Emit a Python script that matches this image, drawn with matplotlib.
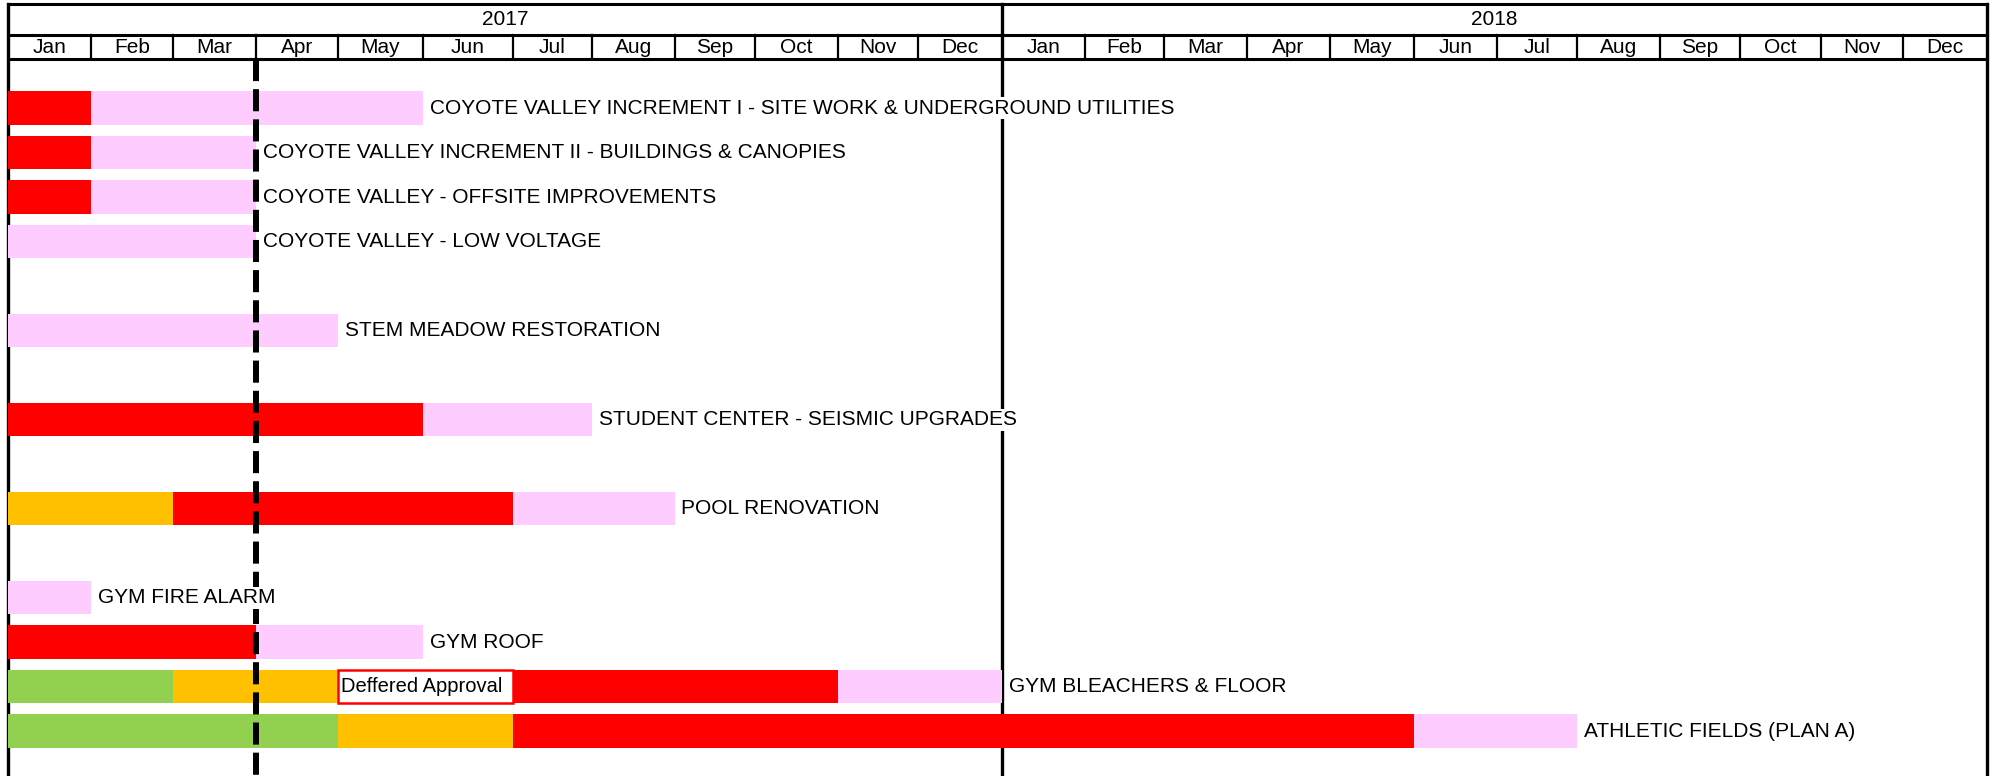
import numpy as np
import matplotlib.pyplot as plt
from matplotlib.patches import Rectangle

plt.rcParams['font.family'] = ['Liberation Sans', 'DejaVu Sans']

years = [2017, 2018]
months = ["Jan", "Feb", "Mar", "Apr", "May", "Jun",
          "Jul", "Aug", "Sep", "Oct", "Nov", "Dec"]

task_names = [
    "COYOTE VALLEY INCREMENT I - SITE WORK & UNDERGROUND UTILITIES",
    "COYOTE VALLEY INCREMENT II - BUILDINGS & CANOPIES",
    "COYOTE VALLEY - OFFSITE IMPROVEMENTS",
    "COYOTE VALLEY - LOW VOLTAGE",
    "STEM MEADOW RESTORATION",
    "STUDENT CENTER - SEISMIC UPGRADES",
    "POOL RENOVATION",
    "GYM FIRE ALARM",
    "GYM ROOF",
    "GYM BLEACHERS & FLOOR",
    "ATHLETIC FIELDS (PLAN A)",
]
task_rows = [0, 1, 2, 3, 5, 7, 9, 11, 12, 13, 14]
# phase boundaries in months from Jan 2017, and the phase of each piece
task_bounds = [
    [0, 1, 5],
    [0, 1, 3],
    [0, 1, 3],
    [0, 3],
    [0, 4],
    [0, 5, 7],
    [0, 2, 6, 8],
    [0, 1],
    [0, 3, 5],
    [0, 2, 4, 6, 10, 12],
    [0, 4, 6, 17, 19],
]
task_phases = [
    ["red", "pink"],
    ["red", "pink"],
    ["red", "pink"],
    ["pink"],
    ["pink"],
    ["red", "pink"],
    ["orange", "red", "pink"],
    ["pink"],
    ["red", "pink"],
    ["green", "orange", "deferred", "red", "pink"],
    ["green", "orange", "red", "pink"],
]
deferred_label = "Deffered Approval"
status_date = 3.0

colors = {"green": "#92D050", "orange": "#FFC000", "red": "#FF0000",
          "pink": "#FFCCFF", "deferred": "white"}

# month column widths of the sheet (uneven, like spreadsheet cells)
col_widths = [83, 82, 83, 82, 85, 90, 79, 83, 80, 83, 80, 84,
              83, 79, 83, 83, 84, 83, 80, 83, 80, 81, 82, 84]
n_months = len(years) * len(months)
edges = np.concatenate([[-83.0], np.cumsum([0] + col_widths), [sum(col_widths) + 83.0]])
knots = np.arange(-1, n_months + 2, dtype=float)


def fwd(x):
    return np.interp(x, knots, edges)


def inv(p):
    return np.interp(p, edges, knots)


y_top, y_mid, y_hdr = -2.34, -1.643, -1.103
y_bot = 15.01
bar_h = 0.75

fig = plt.figure(figsize=(19.94, 7.76), dpi=100)
ax = fig.add_axes([0, 0, 1, 1])
ax.set_xscale("function", functions=(fwd, inv))
ax.set_xlim(inv(-8), inv(1994 - 8))
ax.set_ylim(y_bot, -2.43)
ax.axis("off")

# header
for i, yr in enumerate(years):
    ax.text(inv((fwd(i * 12) + fwd(i * 12 + 12)) / 2), (y_top + y_mid) / 2,
            str(yr), ha="center", va="center", fontsize=15)
    for j, m in enumerate(months):
        k = i * 12 + j
        ax.text(inv((fwd(k) + fwd(k + 1)) / 2), (y_mid + y_hdr) / 2, m,
                ha="center", va="center", fontsize=15)
for y in (y_top, y_mid, y_hdr):
    ax.plot([0, n_months], [y, y], color="black", lw=2.2, zorder=3,
            solid_capstyle="projecting")
for k in range(1, n_months):
    if k % 12:
        ax.plot([k, k], [y_mid, y_hdr], color="black", lw=1.6, zorder=3)
for k in (0, 12, n_months):
    ax.plot([k, k], [y_top, y_bot], color="black", lw=2.4, zorder=1)

# bars
for name, row, bounds, phases in zip(task_names, task_rows, task_bounds, task_phases):
    for x0, x1, ph in zip(bounds[:-1], bounds[1:], phases):
        if ph == "deferred":
            ax.add_patch(Rectangle((x0, row - bar_h / 2), x1 - x0, bar_h,
                                   facecolor="white", edgecolor="#FF0000",
                                   lw=1.8, zorder=4))
            ax.text(x0 + 0.04, row, deferred_label, ha="left", va="center",
                    fontsize=14.5, zorder=5)
        else:
            ax.barh(row, x1 - x0, left=x0, height=bar_h, color=colors[ph],
                    zorder=2)
    ax.text(bounds[-1] + 0.08, row, name, ha="left", va="center", fontsize=15,
            zorder=7, bbox=dict(facecolor="white", edgecolor="none", pad=1))

# status date line
ax.plot([status_date, status_date], [y_hdr, y_bot], color="black", lw=4.3,
        dashes=(3.7, 1.35), zorder=6)

fig.savefig("out.png", dpi=100)
